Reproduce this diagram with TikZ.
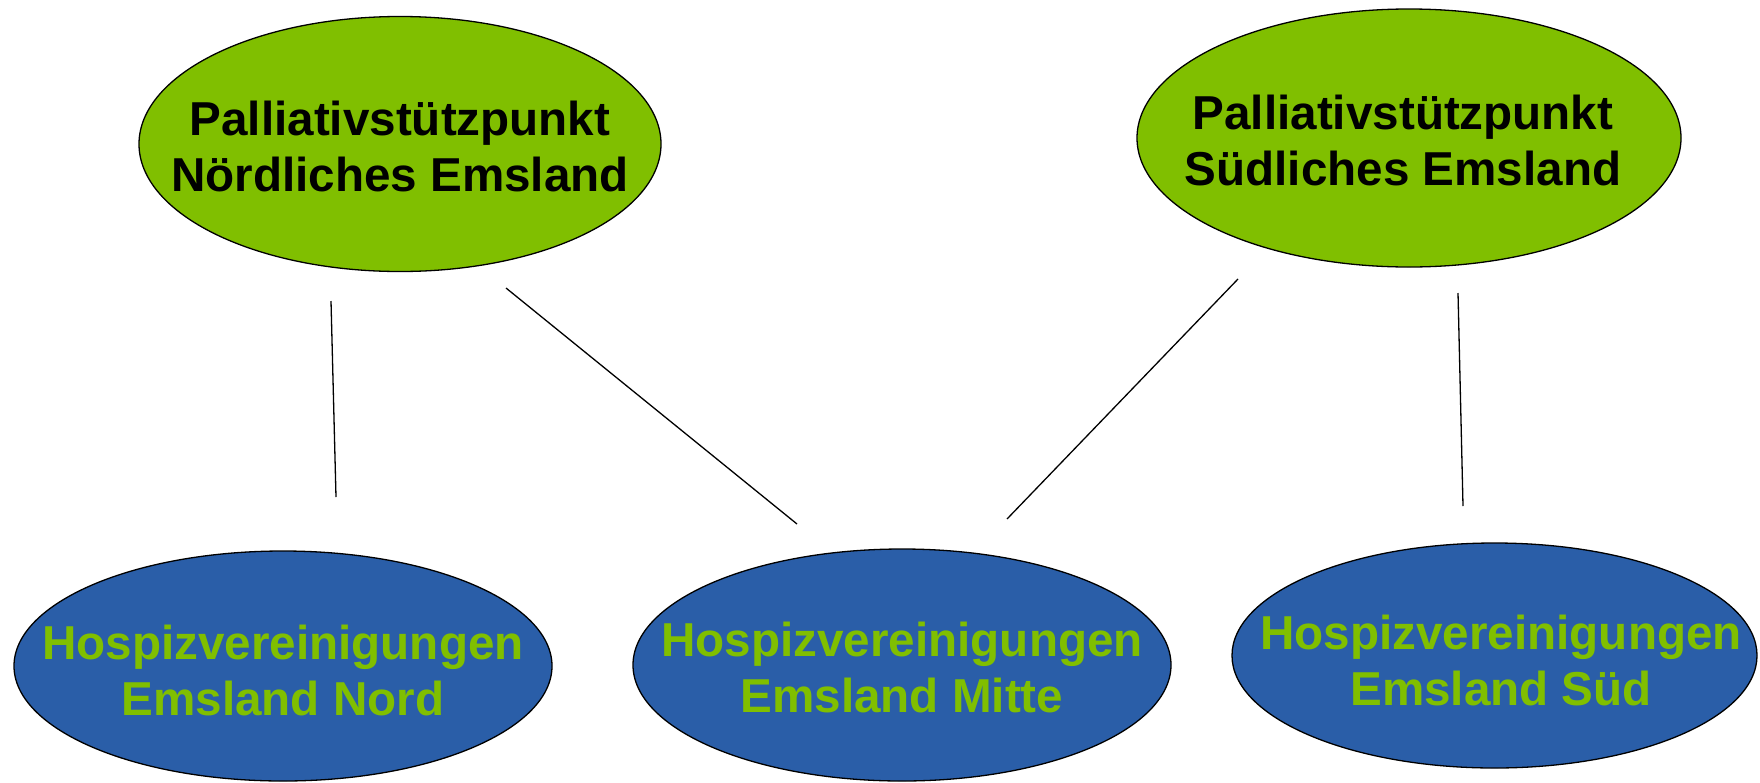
\documentclass[tikz,border=0pt]{standalone}
\usepackage{fontspec}
\setmainfont{Liberation Sans}
\usetikzlibrary{shapes.geometric}
\definecolor{pgreen}{RGB}{128,191,0}
\definecolor{hblue}{RGB}{42,94,168}
\begin{document}
\begin{tikzpicture}[x=1pt,y=-1pt,
  pall/.style={ellipse,draw=black,line width=1.3pt,fill=pgreen,inner sep=0pt},
  hosp/.style={ellipse,draw=black,line width=1.3pt,fill=hblue,inner sep=0pt},
  ptext/.style={align=center,text=black,font=\fontsize{47.6}{56}\selectfont\bfseries,inner sep=0pt},
  htext/.style={align=center,text=pgreen,font=\fontsize{47.6}{56}\selectfont\bfseries,inner sep=0pt},
  conn/.style={draw=black,line width=1.3pt}]
\useasboundingbox (0,0) rectangle (1760,782);
\fill[white] (0,0) rectangle (1760,782);
% top ellipses
\node[pall,minimum width=522pt,minimum height=255pt] (pn) at (400,144) {};
\node[ptext] (pnt) at (400,146) {Palliativstützpunkt\\Nördliches Emsland};
\node[pall,minimum width=544pt,minimum height=258pt] (ps) at (1409,138) {};
\node[ptext] (pst) at (1403,140) {Palliativstützpunkt\\Südliches Emsland};
% bottom ellipses
\node[hosp,minimum width=538pt,minimum height=230pt] (hn) at (283,666) {};
\node[htext] (hnt) at (283,670) {Hospizvereinigungen\\Emsland Nord};
\node[hosp,minimum width=538pt,minimum height=232pt] (hm) at (902,665) {};
\node[htext] (hmt) at (902,667) {Hospizvereinigungen\\Emsland Mitte};
\node[hosp,minimum width=525pt,minimum height=225pt] (hs) at (1494.5,655.5) {};
\node[htext] (hst) at (1501,660) {Hospizvereinigungen\\Emsland Süd};
% connector end points (lines float between the ellipses)
\coordinate (a1) at (331,301);
\coordinate (a2) at (336,497);
\coordinate (b1) at (506,288);
\coordinate (b2) at (797,524);
\coordinate (c1) at (1238,279);
\coordinate (c2) at (1007,519);
\coordinate (d1) at (1458,293);
\coordinate (d2) at (1463,506);
\draw[conn] (a1) -- (a2);
\draw[conn] (b1) -- (b2);
\draw[conn] (c1) -- (c2);
\draw[conn] (d1) -- (d2);
\end{tikzpicture}
\end{document}
